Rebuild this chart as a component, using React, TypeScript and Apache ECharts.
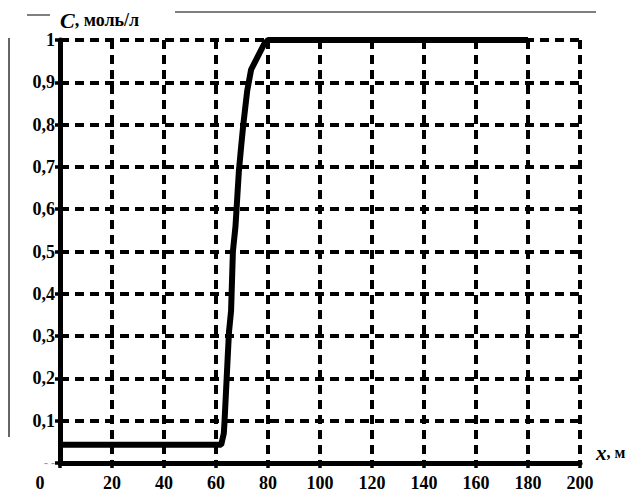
import React, { useEffect, useRef } from "react";
import * as echarts from "echarts";

const xTicks = [0, 20, 40, 60, 80, 100, 120, 140, 160, 180, 200];
const yTicks = [0, 0.1, 0.2, 0.3, 0.4, 0.5, 0.6, 0.7, 0.8, 0.9, 1];
const curveX = [0, 62, 63, 63.3, 64.5, 65, 65.8, 66.5, 67.5, 68.8, 69.7, 70.5, 72, 73.5, 76, 78.5, 80, 180];
const curveC = [0.043, 0.043, 0.07, 0.1, 0.25, 0.31, 0.36, 0.5, 0.56, 0.69, 0.75, 0.8, 0.88, 0.93, 0.96, 0.99, 1, 1];

const FONT = "Liberation Serif";

export default function App() {
  const ref = useRef<HTMLDivElement>(null);
  useEffect(() => {
    if (!ref.current) return;
    const chart = echarts.init(ref.current, null, { renderer: "svg" });
    const data = curveX.map((x, i) => [x, curveC[i]]);
    chart.setOption({
      animation: false,
      backgroundColor: "#fff",
      textStyle: { fontFamily: FONT },
      grid: { left: 60, right: 62, top: 40, bottom: 32 },
      xAxis: {
        type: "value",
        min: xTicks[0],
        max: xTicks[xTicks.length - 1],
        interval: 20,
        name: "{i|x}{b|, м}",
        nameLocation: "end",
        nameGap: 16,
        nameTextStyle: {
          fontFamily: FONT,
          verticalAlign: "bottom",
          rich: {
            i: { fontFamily: FONT, fontStyle: "italic", fontWeight: "bold", fontSize: 21, color: "#000" },
            b: { fontFamily: FONT, fontWeight: "bold", fontSize: 16, color: "#000" },
          },
        },
        axisLine: { show: true, lineStyle: { color: "#000", width: 5 } },
        axisTick: { show: true, length: 5, lineStyle: { color: "#000", width: 3.5 } },
        axisLabel: {
          margin: 11,
          formatter: (v: number) => (v === 0 ? "{z|0}" : String(v)),
          fontFamily: FONT,
          fontWeight: "bold",
          fontSize: 18,
          color: "#000",
          rich: {
            z: { fontFamily: FONT, fontWeight: "bold", fontSize: 18, color: "#000", padding: [0, 40, 0, 0] },
          },
        },
        splitLine: { show: true, lineStyle: { color: "#000", width: 4, type: [9, 6] } },
      },
      yAxis: {
        type: "value",
        min: yTicks[0],
        max: yTicks[yTicks.length - 1],
        interval: 0.1,
        name: "{i|C}{b|, моль/л}",
        nameLocation: "end",
        nameGap: 8,
        nameTextStyle: {
          fontFamily: FONT,
          align: "left",
          verticalAlign: "bottom",
          rich: {
            i: { fontFamily: FONT, fontStyle: "italic", fontWeight: "bold", fontSize: 22, color: "#000" },
            b: { fontFamily: FONT, fontWeight: "bold", fontSize: 18, color: "#000" },
          },
        },
        axisLine: { show: true, lineStyle: { color: "#000", width: 5 } },
        axisTick: { show: true, length: 5, lineStyle: { color: "#000", width: 3.5 } },
        axisLabel: {
          margin: 5,
          formatter: (v: number) => (v === 0 ? "{g|- -}" : String(Math.round(v * 10) / 10).replace(".", ",")),
          fontFamily: FONT,
          fontWeight: "bold",
          fontSize: 18,
          color: "#000",
          rich: { g: { color: "#999", fontSize: 12, fontFamily: FONT } },
        },
        splitLine: { show: true, lineStyle: { color: "#000", width: 4, type: [9, 6] } },
      },
      series: [
        {
          type: "line",
          data,
          symbol: "none",
          lineStyle: { color: "#000", width: 6 },
          z: 5,
        },
      ],
      graphic: [
        { type: "line", shape: { x1: 9, y1: 38, x2: 9, y2: 437 }, style: { stroke: "#333", lineWidth: 1.5 } },
        { type: "line", shape: { x1: 175, y1: 12, x2: 596, y2: 12 }, style: { stroke: "#555", lineWidth: 1.5 } },
        { type: "line", shape: { x1: 27, y1: 15, x2: 50, y2: 15 }, style: { stroke: "#555", lineWidth: 1.5 } },
      ],
    });
    return () => chart.dispose();
  }, []);
  return <div ref={ref} style={{ width: 642, height: 495, position: "absolute", left: 0, top: 0 }} />;
}
